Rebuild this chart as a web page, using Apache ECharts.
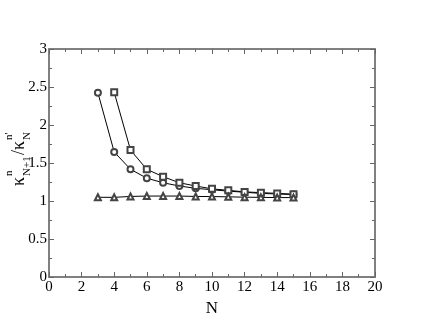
<!DOCTYPE html>
<html><head><meta charset="utf-8">
<script src="https://cdn.jsdelivr.net/npm/echarts@6/dist/echarts.min.js"></script>
<style>html,body{margin:0;padding:0;background:#fff}#c{width:423px;height:327px}</style>
</head><body><div id="c"></div>
<script>
const nCircle = [3,4,5,6,7,8,9,10,11,12,13,14,15];
const circleVals = [2.425,1.645,1.417,1.30,1.24,1.197,1.167,1.148,1.13,1.115,1.10,1.092,1.085];
const nSquare = [4,5,6,7,8,9,10,11,12,13,14,15];
const squareVals = [2.43,1.67,1.417,1.32,1.24,1.197,1.16,1.14,1.12,1.11,1.10,1.09];
const nTri = [3,4,5,6,7,8,9,10,11,12,13,14,15];
const triVals = [1.049,1.048,1.06,1.065,1.065,1.065,1.06,1.058,1.055,1.05,1.048,1.045,1.045];

const font = '"Liberation Serif", "Times New Roman", serif';
const axisLine = {show:true, onZero:false, lineStyle:{color:'#808080', width:2}};
const tick = {show:true, inside:true, length:5, lineStyle:{color:'#666', width:1}};
const minor = {show:true, splitNumber:2, length:3, lineStyle:{color:'#666', width:1}};
function xa(pos, labels){
  return {type:'value', position:pos, min:0, max:20, interval:2,
    axisLine, axisTick:tick, minorTick:minor, splitLine:{show:false},
    axisLabel:{show:labels, color:'#000', fontFamily:font, fontSize:15, margin:3},
    name: labels ? 'N' : '', nameLocation:'middle', nameGap:17,
    nameTextStyle:{fontFamily:font, fontSize:17, color:'#000'}};
}
function ya(pos, labels){
  return {type:'value', position:pos, min:0, max:3, interval:0.5,
    axisLine, axisTick:tick, minorTick:minor, splitLine:{show:false},
    axisLabel:{show:labels, color:'#000', fontFamily:font, fontSize:15, margin:2}};
}
const ser = (x,y,sym) => ({type:'line', data:x.map((v,i)=>[v,y[i]]), symbol:sym, symbolSize:6,
  showSymbol:true, itemStyle:{color:'#444', borderWidth:0.6}, lineStyle:{color:'#000', width:1}, z:3});

const t = (text, x, y, size) => ({type:'text', x, y,
  style:{text, fill:'#000', fontFamily:font, fontSize:size, verticalAlign:'bottom', align:'left'}});

const chart = echarts.init(document.getElementById('c'));
chart.setOption({
  animation:false,
  grid:{left:49, right:48, top:49, bottom:50},
  xAxis:[xa('bottom', true), xa('top', false)],
  yAxis:[ya('left', true), ya('right', false)],
  series:[ser(nCircle,circleVals,'emptyCircle'), ser(nSquare,squareVals,'emptyRect'), ser(nTri,triVals,'emptyTriangle')],
  graphic:[{type:'group', x:25, y:186, rotation:Math.PI/2, children:[
    t('κ', 0, 3, 18),
    t('n', 10, -10, 11),
    t('N+1', 10, 8, 11),
    t('/κ', 31, 3, 18),
    t('N', 46, 8, 11),
    t("n'", 46, -10, 11)
  ]}]
});
</script></body></html>
